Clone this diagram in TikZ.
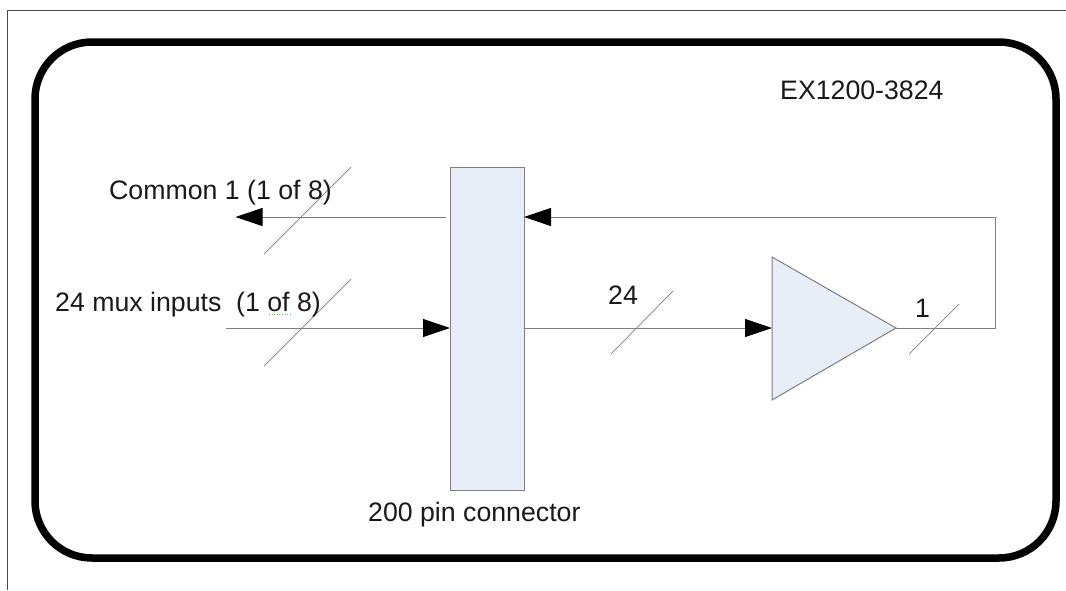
\documentclass[tikz,border=0pt]{standalone}
\usepackage{fontspec}
\setmainfont{Liberation Sans}
\usetikzlibrary{arrows.meta}
\definecolor{fillblue}{HTML}{E8EEF7}
\definecolor{wiregray}{HTML}{7F7F7F}
\tikzset{
  wire/.style={draw=wiregray,line width=1pt},
  arrowwire/.style={wire,-{Triangle[length=27pt,width=18pt,color=black]}},
  slash/.style={draw=wiregray,line width=0.7pt},
  lbl/.style={anchor=base west,inner sep=0pt,text=black!90,font=\fontsize{26.7}{30}\selectfont},
  blockbox/.style={draw=wiregray,fill=fillblue,line width=1pt,inner sep=0pt,minimum width=74pt,minimum height=323pt}
}
\begin{document}
\begin{tikzpicture}[x=1pt,y=-1pt]
\useasboundingbox (0,0) rectangle (1066,590);
\draw[draw=black!70,line width=1pt] (1066,10) -- (7,10) -- (7,590);
\draw[black,line width=7.5pt,rounded corners=57pt] (35,42) rectangle (1056,558);
\node[blockbox] (conn) at (487,328.5) {};
\coordinate (ampin) at (772,328);
\coordinate (amptop) at (772,257);
\coordinate (ampbot) at (772,400);
\coordinate (amptip) at (896,328);
\filldraw[draw=wiregray,fill=fillblue,line width=1pt,line join=miter] (amptop) -- (amptip) -- (ampbot) -- cycle;
\coordinate (commonstart) at (446,217);
\coordinate (commonend) at (235.5,217);
\coordinate (muxstart) at (226,328);
\coordinate (connmuxin) at (450,328);
\coordinate (connout) at (524,328);
\coordinate (connfb) at (524,217);
\coordinate (fbcorner1) at (995,328);
\coordinate (fbcorner2) at (995,217);
\draw[arrowwire] (commonstart) -- (commonend);
\draw[arrowwire] (muxstart) -- (connmuxin);
\draw[arrowwire] (connout) -- (ampin);
\draw[arrowwire] (amptip) -- (fbcorner1) -- (fbcorner2) -- (connfb);
\coordinate (s1a) at (264,254); \coordinate (s1b) at (351,167);
\coordinate (s2a) at (264,366); \coordinate (s2b) at (351,279);
\coordinate (s3a) at (611,354); \coordinate (s3b) at (673,291);
\coordinate (s4a) at (909,354); \coordinate (s4b) at (959,304);
\draw[slash] (s1a) -- (s1b);
\draw[slash] (s2a) -- (s2b);
\draw[slash] (s3a) -- (s3b);
\draw[slash] (s4a) -- (s4b);
\node[lbl] (title) at (780,99) {EX1200-3824};
\node[lbl] (common) at (109,199) {Common 1 (1 of 8)};
\node[lbl] (mux) at (55,311) {24 mux inputs\ \ (1 of 8)};
\node[lbl] (n24) at (608,304) {24};
\node[lbl] (n1) at (915,317) {1};
\node[lbl] (pins) at (368,521) {200 pin connector};
\draw[green!60!black!60,dotted,line width=0.6pt] (269,314) -- (290,314);
\end{tikzpicture}
\end{document}
